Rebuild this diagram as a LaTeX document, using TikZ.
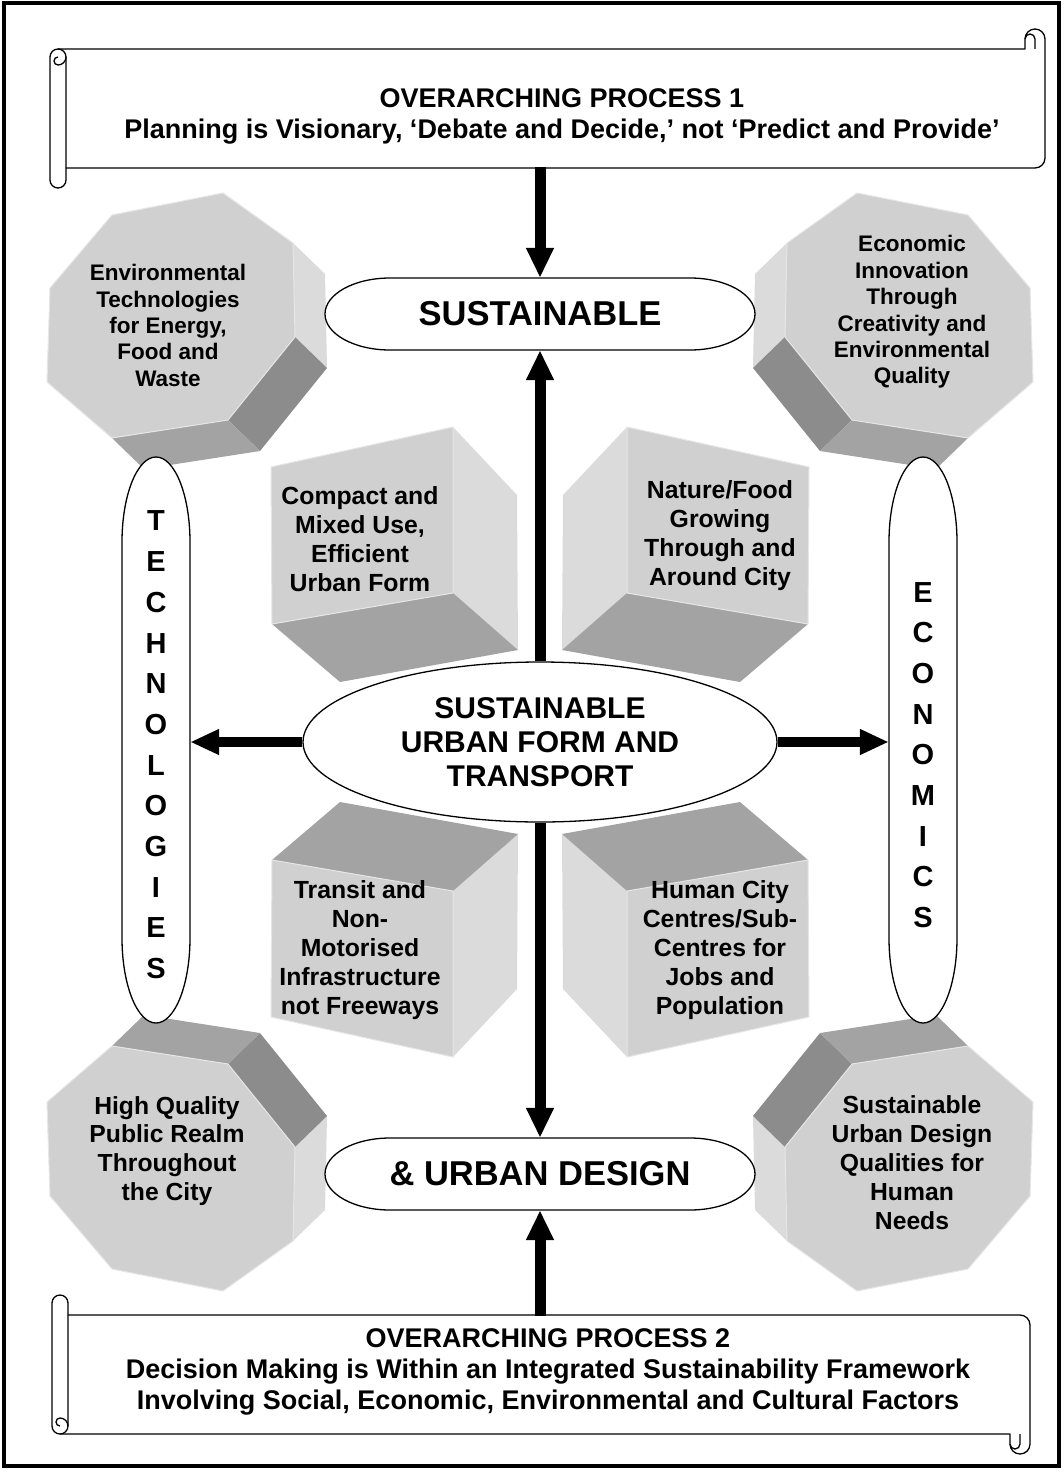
\documentclass[tikz,border=0pt]{standalone}
\usepackage{fontspec}
\setmainfont{Liberation Sans}
\usetikzlibrary{arrows.meta,shapes.geometric}
\definecolor{facefront}{HTML}{D0D0D0}
\definecolor{facelight}{HTML}{DBDBDB}
\definecolor{facedark}{HTML}{8C8C8C}
\definecolor{facemid}{HTML}{A3A3A3}
\definecolor{faceedge}{HTML}{E6E6E6}

\newcommand\octshape{%
  \fill[facelight] (293,243) -- (325,274) -- (327,368) -- (295,337) -- cycle;
  \fill[facedark] (295,337) -- (327,368) -- (260,451) -- (228,420) -- cycle;
  \fill[facemid] (228,420) -- (260,451) -- (144,469) -- (112,438) -- cycle;
  \filldraw[fill=facefront, draw=faceedge, line width=1pt, line join=round]
    (112,215) -- (223,193) -- (293,243) -- (295,337) -- (228,420) -- (112,438) -- (47,382) -- (50,288) -- cycle;
}
\newcommand\cubeshape{%
  \fill[facelight] (453,427) -- (517,495) -- (518,650) -- (453,593) -- cycle;
  \fill[facemid] (272,624) -- (453,593) -- (518,650) -- (340,682) -- cycle;
  \filldraw[fill=facefront, draw=faceedge, line width=1pt, line join=round]
    (271,467) -- (453,427) -- (453,593) -- (272,624) -- cycle;
}
\newcommand\scrollshape[2]{%
  \filldraw[fill=white, draw=black, line width=1.3pt, line join=round]
    (#1,180) -- (#1,57) arc[start angle=180,end angle=270,radius=8]
    -- ({#2-20},49) -- ({#2-20},39) arc[start angle=180,end angle=360,radius=10]
    -- (#2,158) arc[start angle=0,end angle=90,radius=10]
    -- ({#1+16},168) -- ({#1+16},180) arc[start angle=0,end angle=180,radius=8] -- cycle;
  \draw[line width=1.3pt, line join=round]
    ({#1+8},49) arc[start angle=270,end angle=360,radius=8] -- ({#1+16},168);
  \draw[line width=1.3pt]
    ({#1+16},57) arc[start angle=0,end angle=90,radius=8] arc[start angle=90,end angle=270,radius=4];
  \draw[line width=1.3pt]
    ({#2-10},49) -- ({#2-10},39) arc[start angle=0,end angle=-180,radius=5];
}

\begin{document}
\begin{tikzpicture}[x=1pt,y=-1pt,
  every node/.style={align=center, inner sep=0pt},
  octsmall/.style={font=\bfseries\fontsize{22.5}{26.4}\selectfont},
  octlarge/.style={font=\bfseries\fontsize{24.7}{28.9}\selectfont},
  cubetext/.style={font=\bfseries\fontsize{24.8}{29}\selectfont},
  scrolltext/.style={font=\bfseries\fontsize{27}{31}\selectfont},
  bigtext/.style={font=\bfseries\fontsize{34.5}{40}\selectfont},
  midtext/.style={font=\bfseries\fontsize{30}{34}\selectfont},
  pilltext/.style={font=\bfseries\fontsize{29}{40.7}\selectfont},
  outline/.style={fill=white, draw=black, line width=1.3pt},
  fatarrow/.style={line width=11pt, -{Triangle[length=30pt,width=26pt]}},
  sidearrow/.style={line width=10pt, -{Triangle[length=29pt,width=24pt]}}]

\useasboundingbox (0,0) rectangle (1063,1472);
\fill[white] (0,0) rectangle (1063,1472);
\draw[line width=4pt] (4,3) rectangle (1059,1466);

% octagonal prisms
\octshape
\begin{scope}[shift={(1080,0)}, xscale=-1] \octshape \end{scope}
\begin{scope}[shift={(0,1484)}, yscale=-1] \octshape \end{scope}
\begin{scope}[shift={(1080,1484)}, xscale=-1, yscale=-1] \octshape \end{scope}

% cubes
\cubeshape
\begin{scope}[shift={(1080,0)}, xscale=-1] \cubeshape \end{scope}
\begin{scope}[shift={(0,1484)}, yscale=-1] \cubeshape \end{scope}
\begin{scope}[shift={(1080,1484)}, xscale=-1, yscale=-1] \cubeshape \end{scope}

\node[octsmall] (oct1) at (168,325.5) {Environmental\\Technologies\\for Energy,\\Food and\\Waste};
\node[octsmall] (oct2) at (912,312) {Economic\\Innovation\\Through\\Creativity and\\Environmental\\Quality};
\node[octlarge] (oct3) at (167,1151) {High Quality\\Public Realm\\Throughout\\the City};
\node[octlarge] (oct4) at (912,1162.6) {Sustainable\\Urban Design\\Qualities for\\Human\\Needs};
\node[cubetext] (cube1) at (360,539.5) {Compact and\\Mixed Use,\\Efficient\\Urban Form};
\node[cubetext] (cube2) at (720,536) {Nature/Food\\Growing\\Through and\\Around City};
\node[cubetext] (cube3) at (360,950.5) {Transit and\\Non-\\Motorised\\Infrastructure\\not Freeways};
\node[cubetext] (cube4) at (720,950.5) {Human City\\Centres/Sub-\\Centres for\\Jobs and\\Population};

% terminators
\path[outline] (390,278) -- (690,278) arc[start angle=270,end angle=450,x radius=65,y radius=36]
  -- (390,350) arc[start angle=90,end angle=270,x radius=65,y radius=36] -- cycle;
\node[bigtext, minimum width=430pt, minimum height=72pt] (sus) at (540,314) {SUSTAINABLE};
\path[outline] (390,1138) -- (690,1138) arc[start angle=270,end angle=450,x radius=65,y radius=36]
  -- (390,1210) arc[start angle=90,end angle=270,x radius=65,y radius=36] -- cycle;
\node[bigtext, minimum width=430pt, minimum height=72pt] (urb) at (540,1174) {\& URBAN DESIGN};

% side pills
\path[outline] (122,542) arc[start angle=180,end angle=360,x radius=34,y radius=85]
  -- (190,938) arc[start angle=0,end angle=180,x radius=34,y radius=85] -- cycle;
\node[minimum width=68pt, minimum height=566pt] (tech) at (156,740) {};
\node[pilltext] (techword) at (156,745) {T\\E\\C\\H\\N\\O\\L\\O\\G\\I\\E\\S};
\path[outline] (889,542) arc[start angle=180,end angle=360,x radius=34,y radius=85]
  -- (957,938) arc[start angle=0,end angle=180,x radius=34,y radius=85] -- cycle;
\node[minimum width=68pt, minimum height=566pt] (econ) at (923,740) {};
\node[pilltext] (econword) at (923,755) {E\\C\\O\\N\\O\\M\\I\\C\\S};

% central ellipse
\node[midtext, ellipse, fill=white, draw=black, line width=1.3pt, minimum width=474pt, minimum height=160pt] (core) at (540,742) {SUSTAINABLE\\URBAN FORM AND\\TRANSPORT};

% scrolls
\scrollshape{50}{1045}
\begin{scope}[shift={(0,1483)}, yscale=-1] \scrollshape{52}{1030} \end{scope}
\node[scrolltext] (proc1) at (562,116) {OVERARCHING PROCESS 1\\Planning is Visionary, ‘Debate and Decide,’ not ‘Predict and Provide’};
\node[scrolltext] (proc2) at (548,1372) {OVERARCHING PROCESS 2\\Decision Making is Within an Integrated Sustainability Framework\\Involving Social, Economic, Environmental and Cultural Factors};
\coordinate (p1) at (540,167);
\coordinate (p2) at (540,1316);

% arrows
\draw[fatarrow] (p1) -- (sus.north);
\draw[fatarrow] (core.north) -- (sus.south);
\draw[fatarrow] (core.south) -- (urb.north);
\draw[fatarrow] (p2) -- (urb.south);
\draw[sidearrow] (core.west) -- (core.west -| tech.east);
\draw[sidearrow] (core.east) -- (core.east -| econ.west);
\end{tikzpicture}
\end{document}
